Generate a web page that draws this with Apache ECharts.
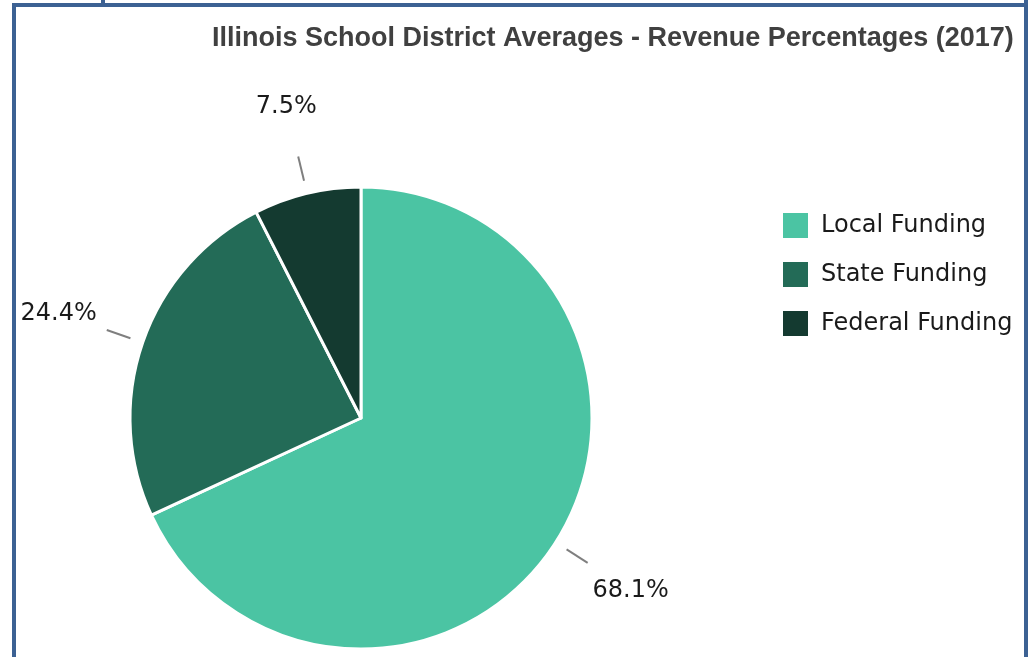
<!DOCTYPE html>
<html>
<head>
<meta charset="utf-8">
<title>Illinois School District Averages - Revenue Percentages (2017)</title>
<script src="https://cdn.jsdelivr.net/npm/echarts@6/dist/echarts.min.js"></script>
<style>
  html, body { margin: 0; padding: 0; background: #fff; }
  #chart { width: 1031px; height: 657px; }
</style>
</head>
<body>
<div id="chart"></div>
<script>
// chart data
const categories = ["Local Funding", "State Funding", "Federal Funding"];
const values = [68.1, 24.4, 7.5];

const palette = ["#4bc4a3", "#236b57", "#143a30"];
const frameColor = "#3c6193";
const center = [361, 418];

const pieData = categories.map((name, i) => ({ name: name, value: values[i] }));

const chart = echarts.init(document.getElementById("chart"));

chart.setOption({
  animation: false,
  color: palette,
  title: {
    text: "Illinois School District Averages - Revenue Percentages (2017)",
    left: 207,
    top: 20,
    textStyle: {
      fontFamily: "Liberation Sans",
      fontWeight: "bold",
      fontSize: 27,
      color: "#404040",
    },
  },
  legend: {
    orient: "vertical",
    left: 781,
    top: 211,
    padding: 0,
    icon: "rect",
    itemWidth: 27,
    itemHeight: 27,
    itemGap: 20,
    selectedMode: false,
    data: categories,
    textStyle: {
      fontFamily: "DejaVu Sans",
      fontSize: 24,
      color: "#1a1a1a",
      padding: [0, 0, 0, 7],
    },
  },
  series: [
    {
      // the visible pie
      type: "pie",
      center: center,
      radius: 231,
      startAngle: 90,
      clockwise: true,
      avoidLabelOverlap: false,
      label: { show: false },
      labelLine: { show: false },
      itemStyle: { borderColor: "#fff", borderWidth: 3 },
      emphasis: { disabled: true },
      data: pieData,
    },
    {
      // percentage labels, centred on a ring outside the pie
      type: "pie",
      center: center,
      radius: [305, 329],
      startAngle: 90,
      silent: true,
      avoidLabelOverlap: false,
      itemStyle: { color: "transparent" },
      label: {
        show: true,
        position: "inside",
        formatter: "{c}%",
        fontFamily: "DejaVu Sans",
        fontSize: 24,
        color: "#1a1a1a",
      },
      labelLine: { show: false },
      emphasis: { disabled: true },
      data: pieData,
    },
    {
      // short leader ticks, detached from the pie
      type: "pie",
      center: center,
      radius: 244,
      startAngle: 90,
      silent: true,
      avoidLabelOverlap: false,
      itemStyle: { color: "transparent" },
      label: { show: true, formatter: " ", color: "transparent" },
      labelLine: {
        show: true,
        length: 25,
        length2: 0,
        lineStyle: { color: "#7f7f7f", width: 2 },
      },
      emphasis: { disabled: true },
      data: pieData,
    },
  ],
  graphic: [
    { type: "rect", shape: { x: 12, y: 3, width: 4, height: 660 }, style: { fill: frameColor }, silent: true },
    { type: "rect", shape: { x: 12, y: 3, width: 1016, height: 4 }, style: { fill: frameColor }, silent: true },
    { type: "rect", shape: { x: 101, y: 0, width: 4, height: 5 }, style: { fill: frameColor }, silent: true },
    { type: "rect", shape: { x: 1024, y: 0, width: 4, height: 660 }, style: { fill: frameColor }, silent: true },
  ],
});
</script>
</body>
</html>
